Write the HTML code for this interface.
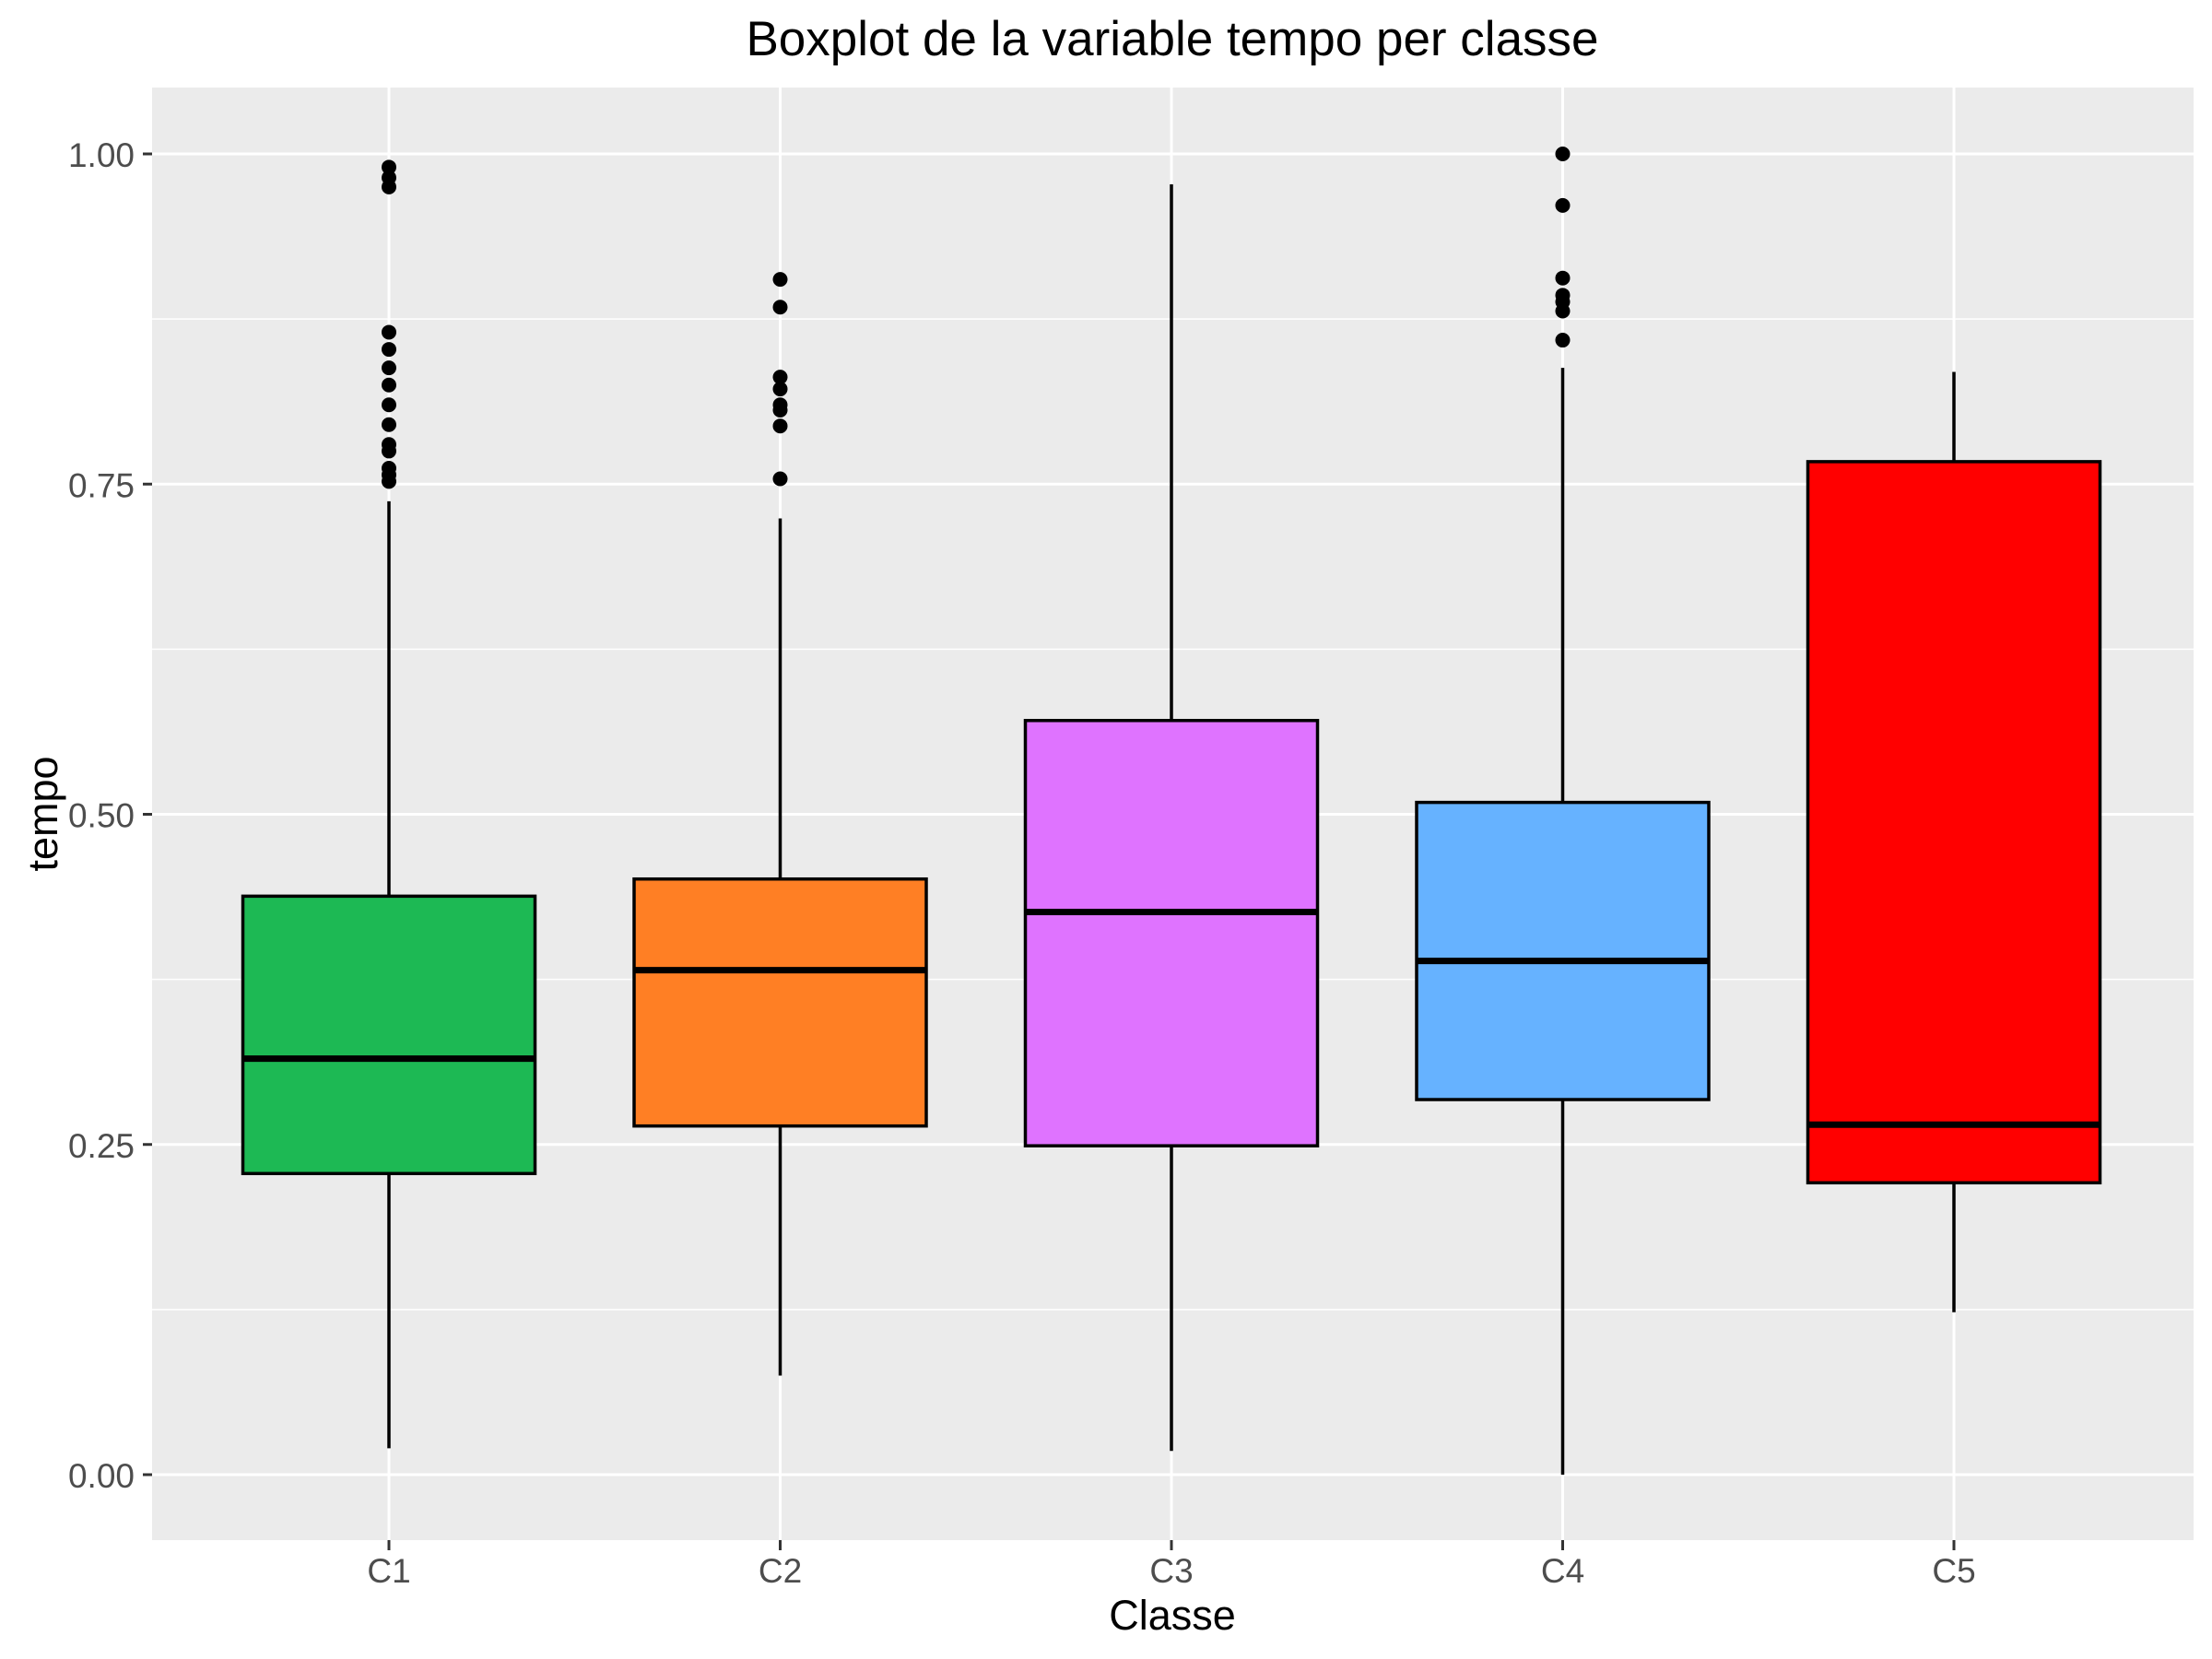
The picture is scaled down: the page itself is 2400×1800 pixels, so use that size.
<!DOCTYPE html>
<html><head><meta charset="utf-8"><style>
html,body{margin:0;padding:0;background:#fff;}
svg{display:block;font-family:"Liberation Sans",Arial,sans-serif;}
</style></head><body>
<svg id="chart" width="2400" height="1800" viewBox="0 0 2400 1800" xmlns="http://www.w3.org/2000/svg">
<rect width="2400" height="1800" fill="#fff"/>
<rect x="165" y="95" width="2215" height="1576" fill="#ebebeb"/>
<g id="grid"></g>
<g id="marks"></g>
<g id="axes"></g>
<text x="1272" y="60" font-size="53" text-anchor="middle" fill="#000">Boxplot de la variable tempo per classe</text>
<text x="1272" y="1768" font-size="45" text-anchor="middle" fill="#000">Classe</text>
<text transform="translate(62,883) rotate(-90)" font-size="45" text-anchor="middle" fill="#000">tempo</text>
</svg>
<script>
const categories = ["C1","C2","C3","C4","C5"];
const colors = ["#1db954","#ff7f24","#df73ff","#66b2ff","#ff0000"];
const lowWhisker = [0.02,0.075,0.018,0.0,0.123];
const q1 = [0.228,0.264,0.249,0.284,0.221];
const median = [0.315,0.382,0.426,0.389,0.265];
const q3 = [0.438,0.451,0.571,0.509,0.767];
const highWhisker = [0.737,0.724,0.977,0.838,0.835];
const outliers = [
  [0.99,0.982,0.975,0.865,0.852,0.838,0.825,0.81,0.795,0.78,0.775,0.762,0.757,0.752],
  [0.905,0.884,0.831,0.822,0.81,0.806,0.794,0.754],
  [],
  [1.0,0.961,0.906,0.893,0.888,0.881,0.859],
  []
];
const yTicks = [0,0.25,0.5,0.75,1.0];
const yTickLabels = ["0.00","0.25","0.50","0.75","1.00"];
const yMinor = [0.125,0.375,0.625,0.875];

const NS="http://www.w3.org/2000/svg";
const y = v => 1600 - 1433*v;
const x = i => 422 + i*424.5;
const boxW = 317;
function mk(tag, attrs, parent){const e=document.createElementNS(NS,tag);for(const k in attrs)e.setAttribute(k,attrs[k]);parent.appendChild(e);return e;}
const grid=document.getElementById('grid'), marks=document.getElementById('marks'), axes=document.getElementById('axes');
yMinor.forEach(v=>{const l=mk('line',{x1:165,x2:2380,y1:y(v),y2:y(v),stroke:'#fff','stroke-width':1.5},grid);

});
yTicks.forEach((v,i)=>{const l=mk('line',{x1:165,x2:2380,y1:y(v),y2:y(v),stroke:'#fff','stroke-width':3},grid);


const t=mk('line',{x1:155,x2:165,y1:y(v),y2:y(v),stroke:'#333','stroke-width':3},axes);


const tx=mk('text',{x:146,y:y(v)+14,'font-size':37,'text-anchor':'end',fill:'#4d4d4d'},axes);
tx.textContent=yTickLabels[i];

});
categories.forEach((c,i)=>{const cx=x(i);
const g=mk('line',{x1:cx,x2:cx,y1:95,y2:1671,stroke:'#fff','stroke-width':3},grid);


const t=mk('line',{x1:cx,x2:cx,y1:1671,y2:1682,stroke:'#333','stroke-width':3},axes);


const tx=mk('text',{x:cx,y:1717,'font-size':37,'text-anchor':'middle',fill:'#4d4d4d'},axes);
tx.textContent=c;


const w1=mk('line',{x1:cx,x2:cx,y1:y(highWhisker[i]),y2:y(q3[i]),stroke:'#000','stroke-width':3.5},marks);


const w2=mk('line',{x1:cx,x2:cx,y1:y(q1[i]),y2:y(lowWhisker[i]),stroke:'#000','stroke-width':3.5},marks);


const b=mk('rect',{x:cx-boxW/2,y:y(q3[i]),width:boxW,height:y(q1[i])-y(q3[i]),fill:colors[i],stroke:'#000','stroke-width':3.5},marks);


const m=mk('line',{x1:cx-boxW/2,x2:cx+boxW/2,y1:y(median[i]),y2:y(median[i]),stroke:'#000','stroke-width':7},marks);


outliers[i].forEach(v=>{const p=mk('circle',{cx:cx,cy:y(v),r:8,fill:'#000'},marks);

});
});
</script>
</body></html>
